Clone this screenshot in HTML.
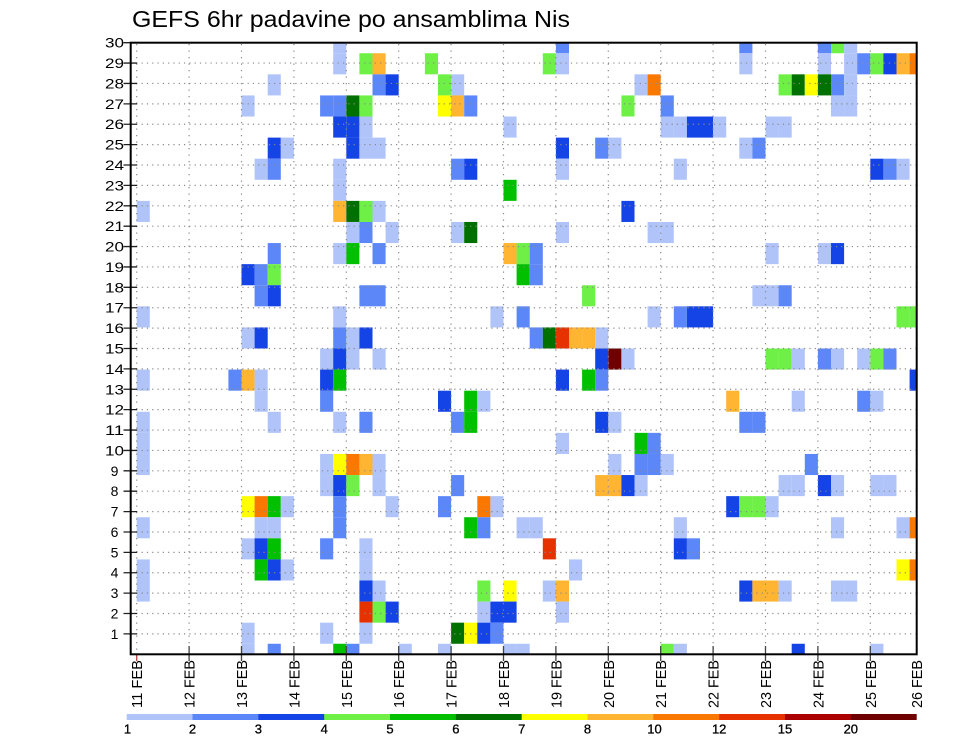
<!DOCTYPE html>
<html><head><meta charset="utf-8"><style>
html,body{margin:0;padding:0;background:#fff;}
svg{display:block;}
.a{fill:#b0c4fa}.b{fill:#5c87f8}.c{fill:#1443e6}.d{fill:#6ef046}.e{fill:#00c000}.f{fill:#007000}
.g{fill:#ffff00}.h{fill:#ffb432}.k{fill:#fa7800}.m{fill:#e63200}.n{fill:#aa0000}.p{fill:#6e0000}
text{font-family:"Liberation Sans",sans-serif;fill:#000;}
</style></head><body>
<svg width="960" height="742" viewBox="0 0 960 742" xmlns="http://www.w3.org/2000/svg">
<defs><clipPath id="cp"><rect x="130.7" y="42.7" width="786" height="611.6"/></clipPath></defs>
<rect width="960" height="742" fill="#fff"/>
<text x="132" y="27" font-size="23" textLength="438" lengthAdjust="spacingAndGlyphs">GEFS 6hr padavine po ansamblima Nis</text>
<g clip-path="url(#cp)"><g transform="translate(136.7 32.155) scale(13.1 21.09)">
<rect class="a" x="15" y="0" width="1" height="1"/><rect class="b" x="32" y="0" width="1" height="1"/><rect class="b" x="46" y="0" width="1" height="1"/><rect class="b" x="52" y="0" width="1" height="1"/><rect class="d" x="53" y="0" width="1" height="1"/><rect class="a" x="54" y="0" width="1" height="1"/>
<rect class="a" x="15" y="1" width="1" height="1"/><rect class="d" x="17" y="1" width="1" height="1"/><rect class="h" x="18" y="1" width="1" height="1"/><rect class="d" x="22" y="1" width="1" height="1"/><rect class="d" x="31" y="1" width="1" height="1"/><rect class="a" x="32" y="1" width="1" height="1"/><rect class="a" x="46" y="1" width="1" height="1"/><rect class="a" x="52" y="1" width="1" height="1"/><rect class="a" x="54" y="1" width="1" height="1"/><rect class="b" x="55" y="1" width="1" height="1"/><rect class="d" x="56" y="1" width="1" height="1"/><rect class="c" x="57" y="1" width="1" height="1"/><rect class="h" x="58" y="1" width="1" height="1"/><rect class="k" x="59" y="1" width="1" height="1"/>
<rect class="a" x="10" y="2" width="1" height="1"/><rect class="b" x="18" y="2" width="1" height="1"/><rect class="c" x="19" y="2" width="1" height="1"/><rect class="d" x="23" y="2" width="1" height="1"/><rect class="a" x="24" y="2" width="1" height="1"/><rect class="a" x="38" y="2" width="1" height="1"/><rect class="k" x="39" y="2" width="1" height="1"/><rect class="d" x="49" y="2" width="1" height="1"/><rect class="f" x="50" y="2" width="1" height="1"/><rect class="g" x="51" y="2" width="1" height="1"/><rect class="f" x="52" y="2" width="1" height="1"/><rect class="b" x="53" y="2" width="1" height="1"/><rect class="a" x="54" y="2" width="1" height="1"/>
<rect class="a" x="8" y="3" width="1" height="1"/><rect class="b" x="14" y="3" width="1" height="1"/><rect class="b" x="15" y="3" width="1" height="1"/><rect class="f" x="16" y="3" width="1" height="1"/><rect class="d" x="17" y="3" width="1" height="1"/><rect class="g" x="23" y="3" width="1" height="1"/><rect class="h" x="24" y="3" width="1" height="1"/><rect class="b" x="25" y="3" width="1" height="1"/><rect class="d" x="37" y="3" width="1" height="1"/><rect class="b" x="40" y="3" width="1" height="1"/><rect class="a" x="53" y="3" width="1" height="1"/><rect class="a" x="54" y="3" width="1" height="1"/>
<rect class="c" x="15" y="4" width="1" height="1"/><rect class="c" x="16" y="4" width="1" height="1"/><rect class="a" x="17" y="4" width="1" height="1"/><rect class="a" x="28" y="4" width="1" height="1"/><rect class="a" x="40" y="4" width="1" height="1"/><rect class="a" x="41" y="4" width="1" height="1"/><rect class="c" x="42" y="4" width="1" height="1"/><rect class="c" x="43" y="4" width="1" height="1"/><rect class="a" x="44" y="4" width="1" height="1"/><rect class="a" x="48" y="4" width="1" height="1"/><rect class="a" x="49" y="4" width="1" height="1"/>
<rect class="c" x="10" y="5" width="1" height="1"/><rect class="a" x="11" y="5" width="1" height="1"/><rect class="c" x="16" y="5" width="1" height="1"/><rect class="a" x="17" y="5" width="1" height="1"/><rect class="a" x="18" y="5" width="1" height="1"/><rect class="c" x="32" y="5" width="1" height="1"/><rect class="b" x="35" y="5" width="1" height="1"/><rect class="a" x="36" y="5" width="1" height="1"/><rect class="a" x="46" y="5" width="1" height="1"/><rect class="b" x="47" y="5" width="1" height="1"/>
<rect class="a" x="9" y="6" width="1" height="1"/><rect class="b" x="10" y="6" width="1" height="1"/><rect class="a" x="15" y="6" width="1" height="1"/><rect class="b" x="24" y="6" width="1" height="1"/><rect class="c" x="25" y="6" width="1" height="1"/><rect class="a" x="32" y="6" width="1" height="1"/><rect class="a" x="41" y="6" width="1" height="1"/><rect class="c" x="56" y="6" width="1" height="1"/><rect class="b" x="57" y="6" width="1" height="1"/><rect class="a" x="58" y="6" width="1" height="1"/>
<rect class="a" x="15" y="7" width="1" height="1"/><rect class="e" x="28" y="7" width="1" height="1"/>
<rect class="a" x="0" y="8" width="1" height="1"/><rect class="h" x="15" y="8" width="1" height="1"/><rect class="f" x="16" y="8" width="1" height="1"/><rect class="d" x="17" y="8" width="1" height="1"/><rect class="a" x="18" y="8" width="1" height="1"/><rect class="c" x="37" y="8" width="1" height="1"/>
<rect class="a" x="16" y="9" width="1" height="1"/><rect class="b" x="17" y="9" width="1" height="1"/><rect class="a" x="19" y="9" width="1" height="1"/><rect class="a" x="24" y="9" width="1" height="1"/><rect class="f" x="25" y="9" width="1" height="1"/><rect class="a" x="32" y="9" width="1" height="1"/><rect class="a" x="39" y="9" width="1" height="1"/><rect class="a" x="40" y="9" width="1" height="1"/>
<rect class="b" x="10" y="10" width="1" height="1"/><rect class="a" x="15" y="10" width="1" height="1"/><rect class="e" x="16" y="10" width="1" height="1"/><rect class="b" x="18" y="10" width="1" height="1"/><rect class="h" x="28" y="10" width="1" height="1"/><rect class="d" x="29" y="10" width="1" height="1"/><rect class="b" x="30" y="10" width="1" height="1"/><rect class="a" x="48" y="10" width="1" height="1"/><rect class="a" x="52" y="10" width="1" height="1"/><rect class="c" x="53" y="10" width="1" height="1"/>
<rect class="c" x="8" y="11" width="1" height="1"/><rect class="b" x="9" y="11" width="1" height="1"/><rect class="d" x="10" y="11" width="1" height="1"/><rect class="e" x="29" y="11" width="1" height="1"/><rect class="b" x="30" y="11" width="1" height="1"/>
<rect class="b" x="9" y="12" width="1" height="1"/><rect class="c" x="10" y="12" width="1" height="1"/><rect class="b" x="17" y="12" width="1" height="1"/><rect class="b" x="18" y="12" width="1" height="1"/><rect class="d" x="34" y="12" width="1" height="1"/><rect class="a" x="47" y="12" width="1" height="1"/><rect class="a" x="48" y="12" width="1" height="1"/><rect class="b" x="49" y="12" width="1" height="1"/>
<rect class="a" x="0" y="13" width="1" height="1"/><rect class="a" x="15" y="13" width="1" height="1"/><rect class="a" x="27" y="13" width="1" height="1"/><rect class="b" x="29" y="13" width="1" height="1"/><rect class="a" x="39" y="13" width="1" height="1"/><rect class="b" x="41" y="13" width="1" height="1"/><rect class="c" x="42" y="13" width="1" height="1"/><rect class="c" x="43" y="13" width="1" height="1"/><rect class="d" x="58" y="13" width="1" height="1"/><rect class="d" x="59" y="13" width="1" height="1"/>
<rect class="a" x="8" y="14" width="1" height="1"/><rect class="c" x="9" y="14" width="1" height="1"/><rect class="b" x="15" y="14" width="1" height="1"/><rect class="a" x="16" y="14" width="1" height="1"/><rect class="c" x="17" y="14" width="1" height="1"/><rect class="b" x="30" y="14" width="1" height="1"/><rect class="f" x="31" y="14" width="1" height="1"/><rect class="m" x="32" y="14" width="1" height="1"/><rect class="h" x="33" y="14" width="1" height="1"/><rect class="h" x="34" y="14" width="1" height="1"/><rect class="a" x="35" y="14" width="1" height="1"/>
<rect class="a" x="14" y="15" width="1" height="1"/><rect class="c" x="15" y="15" width="1" height="1"/><rect class="a" x="16" y="15" width="1" height="1"/><rect class="a" x="18" y="15" width="1" height="1"/><rect class="c" x="35" y="15" width="1" height="1"/><rect class="p" x="36" y="15" width="1" height="1"/><rect class="a" x="37" y="15" width="1" height="1"/><rect class="d" x="48" y="15" width="1" height="1"/><rect class="d" x="49" y="15" width="1" height="1"/><rect class="a" x="50" y="15" width="1" height="1"/><rect class="b" x="52" y="15" width="1" height="1"/><rect class="a" x="53" y="15" width="1" height="1"/><rect class="a" x="55" y="15" width="1" height="1"/><rect class="d" x="56" y="15" width="1" height="1"/><rect class="b" x="57" y="15" width="1" height="1"/>
<rect class="a" x="0" y="16" width="1" height="1"/><rect class="b" x="7" y="16" width="1" height="1"/><rect class="h" x="8" y="16" width="1" height="1"/><rect class="a" x="9" y="16" width="1" height="1"/><rect class="c" x="14" y="16" width="1" height="1"/><rect class="e" x="15" y="16" width="1" height="1"/><rect class="c" x="32" y="16" width="1" height="1"/><rect class="e" x="34" y="16" width="1" height="1"/><rect class="b" x="35" y="16" width="1" height="1"/><rect class="c" x="59" y="16" width="1" height="1"/>
<rect class="a" x="9" y="17" width="1" height="1"/><rect class="b" x="14" y="17" width="1" height="1"/><rect class="c" x="23" y="17" width="1" height="1"/><rect class="e" x="25" y="17" width="1" height="1"/><rect class="a" x="26" y="17" width="1" height="1"/><rect class="h" x="45" y="17" width="1" height="1"/><rect class="a" x="50" y="17" width="1" height="1"/><rect class="b" x="55" y="17" width="1" height="1"/><rect class="a" x="56" y="17" width="1" height="1"/>
<rect class="a" x="0" y="18" width="1" height="1"/><rect class="a" x="10" y="18" width="1" height="1"/><rect class="a" x="15" y="18" width="1" height="1"/><rect class="b" x="17" y="18" width="1" height="1"/><rect class="b" x="24" y="18" width="1" height="1"/><rect class="e" x="25" y="18" width="1" height="1"/><rect class="c" x="35" y="18" width="1" height="1"/><rect class="a" x="36" y="18" width="1" height="1"/><rect class="b" x="46" y="18" width="1" height="1"/><rect class="b" x="47" y="18" width="1" height="1"/>
<rect class="a" x="0" y="19" width="1" height="1"/><rect class="a" x="32" y="19" width="1" height="1"/><rect class="e" x="38" y="19" width="1" height="1"/><rect class="b" x="39" y="19" width="1" height="1"/>
<rect class="a" x="0" y="20" width="1" height="1"/><rect class="a" x="14" y="20" width="1" height="1"/><rect class="g" x="15" y="20" width="1" height="1"/><rect class="k" x="16" y="20" width="1" height="1"/><rect class="h" x="17" y="20" width="1" height="1"/><rect class="a" x="18" y="20" width="1" height="1"/><rect class="a" x="36" y="20" width="1" height="1"/><rect class="b" x="38" y="20" width="1" height="1"/><rect class="b" x="39" y="20" width="1" height="1"/><rect class="a" x="40" y="20" width="1" height="1"/><rect class="b" x="51" y="20" width="1" height="1"/>
<rect class="a" x="14" y="21" width="1" height="1"/><rect class="c" x="15" y="21" width="1" height="1"/><rect class="d" x="16" y="21" width="1" height="1"/><rect class="a" x="18" y="21" width="1" height="1"/><rect class="b" x="24" y="21" width="1" height="1"/><rect class="h" x="35" y="21" width="1" height="1"/><rect class="h" x="36" y="21" width="1" height="1"/><rect class="c" x="37" y="21" width="1" height="1"/><rect class="a" x="38" y="21" width="1" height="1"/><rect class="a" x="49" y="21" width="1" height="1"/><rect class="a" x="50" y="21" width="1" height="1"/><rect class="c" x="52" y="21" width="1" height="1"/><rect class="a" x="53" y="21" width="1" height="1"/><rect class="a" x="56" y="21" width="1" height="1"/><rect class="a" x="57" y="21" width="1" height="1"/>
<rect class="g" x="8" y="22" width="1" height="1"/><rect class="k" x="9" y="22" width="1" height="1"/><rect class="e" x="10" y="22" width="1" height="1"/><rect class="a" x="11" y="22" width="1" height="1"/><rect class="b" x="15" y="22" width="1" height="1"/><rect class="a" x="19" y="22" width="1" height="1"/><rect class="b" x="23" y="22" width="1" height="1"/><rect class="k" x="26" y="22" width="1" height="1"/><rect class="a" x="27" y="22" width="1" height="1"/><rect class="c" x="45" y="22" width="1" height="1"/><rect class="d" x="46" y="22" width="1" height="1"/><rect class="d" x="47" y="22" width="1" height="1"/><rect class="a" x="48" y="22" width="1" height="1"/>
<rect class="a" x="0" y="23" width="1" height="1"/><rect class="a" x="9" y="23" width="1" height="1"/><rect class="a" x="10" y="23" width="1" height="1"/><rect class="b" x="15" y="23" width="1" height="1"/><rect class="e" x="25" y="23" width="1" height="1"/><rect class="b" x="26" y="23" width="1" height="1"/><rect class="a" x="29" y="23" width="1" height="1"/><rect class="a" x="30" y="23" width="1" height="1"/><rect class="a" x="41" y="23" width="1" height="1"/><rect class="a" x="53" y="23" width="1" height="1"/><rect class="a" x="58" y="23" width="1" height="1"/><rect class="k" x="59" y="23" width="1" height="1"/>
<rect class="a" x="8" y="24" width="1" height="1"/><rect class="c" x="9" y="24" width="1" height="1"/><rect class="e" x="10" y="24" width="1" height="1"/><rect class="b" x="14" y="24" width="1" height="1"/><rect class="a" x="17" y="24" width="1" height="1"/><rect class="m" x="31" y="24" width="1" height="1"/><rect class="c" x="41" y="24" width="1" height="1"/><rect class="b" x="42" y="24" width="1" height="1"/>
<rect class="a" x="0" y="25" width="1" height="1"/><rect class="e" x="9" y="25" width="1" height="1"/><rect class="c" x="10" y="25" width="1" height="1"/><rect class="a" x="11" y="25" width="1" height="1"/><rect class="a" x="17" y="25" width="1" height="1"/><rect class="a" x="33" y="25" width="1" height="1"/><rect class="g" x="58" y="25" width="1" height="1"/><rect class="k" x="59" y="25" width="1" height="1"/>
<rect class="a" x="0" y="26" width="1" height="1"/><rect class="c" x="17" y="26" width="1" height="1"/><rect class="a" x="18" y="26" width="1" height="1"/><rect class="d" x="26" y="26" width="1" height="1"/><rect class="g" x="28" y="26" width="1" height="1"/><rect class="a" x="31" y="26" width="1" height="1"/><rect class="h" x="32" y="26" width="1" height="1"/><rect class="c" x="46" y="26" width="1" height="1"/><rect class="h" x="47" y="26" width="1" height="1"/><rect class="h" x="48" y="26" width="1" height="1"/><rect class="a" x="49" y="26" width="1" height="1"/><rect class="a" x="53" y="26" width="1" height="1"/><rect class="a" x="54" y="26" width="1" height="1"/>
<rect class="m" x="17" y="27" width="1" height="1"/><rect class="d" x="18" y="27" width="1" height="1"/><rect class="c" x="19" y="27" width="1" height="1"/><rect class="a" x="26" y="27" width="1" height="1"/><rect class="c" x="27" y="27" width="1" height="1"/><rect class="c" x="28" y="27" width="1" height="1"/><rect class="a" x="32" y="27" width="1" height="1"/>
<rect class="a" x="8" y="28" width="1" height="1"/><rect class="a" x="14" y="28" width="1" height="1"/><rect class="a" x="17" y="28" width="1" height="1"/><rect class="f" x="24" y="28" width="1" height="1"/><rect class="g" x="25" y="28" width="1" height="1"/><rect class="c" x="26" y="28" width="1" height="1"/><rect class="b" x="27" y="28" width="1" height="1"/>
<rect class="a" x="8" y="29" width="1" height="1"/><rect class="b" x="10" y="29" width="1" height="1"/><rect class="e" x="15" y="29" width="1" height="1"/><rect class="b" x="16" y="29" width="1" height="1"/><rect class="a" x="20" y="29" width="1" height="1"/><rect class="a" x="23" y="29" width="1" height="1"/><rect class="a" x="28" y="29" width="1" height="1"/><rect class="a" x="29" y="29" width="1" height="1"/><rect class="d" x="40" y="29" width="1" height="1"/><rect class="a" x="41" y="29" width="1" height="1"/><rect class="c" x="50" y="29" width="1" height="1"/><rect class="a" x="56" y="29" width="1" height="1"/>
</g></g>
<g stroke="#8a8a8a" stroke-width="1.2" fill="none">
<path stroke-dasharray="1.2 4.1" d="M131 633.91H916M131 613.53H916M131 593.14H916M131 572.75H916M131 552.37H916M131 531.98H916M131 511.59H916M131 491.2H916M131 470.82H916M131 450.43H916M131 430.04H916M131 409.66H916M131 389.27H916M131 368.88H916M131 348.5H916M131 328.11H916M131 307.72H916M131 287.33H916M131 266.95H916M131 246.56H916M131 226.17H916M131 205.79H916M131 185.4H916M131 165.01H916M131 144.62H916M131 124.24H916M131 103.85H916M131 83.46H916M131 63.08H916"/>
<path stroke-dasharray="1.2 5.3" d="M136.7 44V653M189.1 44V653M241.5 44V653M293.9 44V653M346.3 44V653M398.7 44V653M451.1 44V653M503.5 44V653M555.9 44V653M608.3 44V653M660.7 44V653M713.1 44V653M765.5 44V653M817.9 44V653M870.3 44V653"/>
</g>
<g stroke="#222" stroke-width="1.3">
<path d="M123.5 633.91H137M123.5 613.53H137M123.5 593.14H137M123.5 572.75H137M123.5 552.37H137M123.5 531.98H137M123.5 511.59H137M123.5 491.2H137M123.5 470.82H137M123.5 450.43H137M123.5 430.04H137M123.5 409.66H137M123.5 389.27H137M123.5 368.88H137M123.5 348.5H137M123.5 328.11H137M123.5 307.72H137M123.5 287.33H137M123.5 266.95H137M123.5 246.56H137M123.5 226.17H137M123.5 205.79H137M123.5 185.4H137M123.5 165.01H137M123.5 144.62H137M123.5 124.24H137M123.5 103.85H137M123.5 83.46H137M123.5 63.08H137M123.5 42.7H137"/>
<path stroke="#444" d="M189.1 646V661M241.5 646V661M293.9 646V661M346.3 646V661M398.7 646V661M451.1 646V661M503.5 646V661M555.9 646V661M608.3 646V661M660.7 646V661M713.1 646V661M765.5 646V661M817.9 646V661M870.3 646V661"/>
<path stroke="#c04040" d="M136.7 654V661"/>
</g>
<rect x="130.7" y="42.7" width="786" height="611.6" fill="none" stroke="#000" stroke-width="2"/>
<g font-size="14" text-anchor="middle">
<text x="114.5" y="638.9">1</text><text x="114.5" y="618.5">2</text><text x="114.5" y="598.1">3</text><text x="114.5" y="577.7">4</text><text x="114.5" y="557.4">5</text><text x="114.5" y="537">6</text><text x="114.5" y="516.6">7</text><text x="114.5" y="496.2">8</text><text x="114.5" y="475.8">9</text>
<text x="114.5" y="455.4" textLength="19" lengthAdjust="spacingAndGlyphs">10</text><text x="114.5" y="435" textLength="19" lengthAdjust="spacingAndGlyphs">11</text><text x="114.5" y="414.7" textLength="19" lengthAdjust="spacingAndGlyphs">12</text><text x="114.5" y="394.3" textLength="19" lengthAdjust="spacingAndGlyphs">13</text><text x="114.5" y="373.9" textLength="19" lengthAdjust="spacingAndGlyphs">14</text><text x="114.5" y="353.5" textLength="19" lengthAdjust="spacingAndGlyphs">15</text><text x="114.5" y="333.1" textLength="19" lengthAdjust="spacingAndGlyphs">16</text><text x="114.5" y="312.7" textLength="19" lengthAdjust="spacingAndGlyphs">17</text><text x="114.5" y="292.3" textLength="19" lengthAdjust="spacingAndGlyphs">18</text><text x="114.5" y="272" textLength="19" lengthAdjust="spacingAndGlyphs">19</text><text x="114.5" y="251.6" textLength="19" lengthAdjust="spacingAndGlyphs">20</text><text x="114.5" y="231.2" textLength="19" lengthAdjust="spacingAndGlyphs">21</text><text x="114.5" y="210.8" textLength="19" lengthAdjust="spacingAndGlyphs">22</text><text x="114.5" y="190.4" textLength="19" lengthAdjust="spacingAndGlyphs">23</text><text x="114.5" y="170" textLength="19" lengthAdjust="spacingAndGlyphs">24</text><text x="114.5" y="149.6" textLength="19" lengthAdjust="spacingAndGlyphs">25</text><text x="114.5" y="129.2" textLength="19" lengthAdjust="spacingAndGlyphs">26</text><text x="114.5" y="108.9" textLength="19" lengthAdjust="spacingAndGlyphs">27</text><text x="114.5" y="88.5" textLength="19" lengthAdjust="spacingAndGlyphs">28</text><text x="114.5" y="68.1" textLength="19" lengthAdjust="spacingAndGlyphs">29</text><text x="114.5" y="47.7" textLength="19" lengthAdjust="spacingAndGlyphs">30</text>
</g>
<g font-size="15" text-anchor="end">
<text transform="translate(142.2 660) rotate(-90)" textLength="48" lengthAdjust="spacingAndGlyphs">11 FEB</text>
<text transform="translate(194.6 660) rotate(-90)" textLength="48" lengthAdjust="spacingAndGlyphs">12 FEB</text>
<text transform="translate(247 660) rotate(-90)" textLength="48" lengthAdjust="spacingAndGlyphs">13 FEB</text>
<text transform="translate(299.4 660) rotate(-90)" textLength="48" lengthAdjust="spacingAndGlyphs">14 FEB</text>
<text transform="translate(351.8 660) rotate(-90)" textLength="48" lengthAdjust="spacingAndGlyphs">15 FEB</text>
<text transform="translate(404.2 660) rotate(-90)" textLength="48" lengthAdjust="spacingAndGlyphs">16 FEB</text>
<text transform="translate(456.6 660) rotate(-90)" textLength="48" lengthAdjust="spacingAndGlyphs">17 FEB</text>
<text transform="translate(509 660) rotate(-90)" textLength="48" lengthAdjust="spacingAndGlyphs">18 FEB</text>
<text transform="translate(561.4 660) rotate(-90)" textLength="48" lengthAdjust="spacingAndGlyphs">19 FEB</text>
<text transform="translate(613.8 660) rotate(-90)" textLength="48" lengthAdjust="spacingAndGlyphs">20 FEB</text>
<text transform="translate(666.2 660) rotate(-90)" textLength="48" lengthAdjust="spacingAndGlyphs">21 FEB</text>
<text transform="translate(718.6 660) rotate(-90)" textLength="48" lengthAdjust="spacingAndGlyphs">22 FEB</text>
<text transform="translate(771 660) rotate(-90)" textLength="48" lengthAdjust="spacingAndGlyphs">23 FEB</text>
<text transform="translate(823.4 660) rotate(-90)" textLength="48" lengthAdjust="spacingAndGlyphs">24 FEB</text>
<text transform="translate(875.8 660) rotate(-90)" textLength="48" lengthAdjust="spacingAndGlyphs">25 FEB</text>
<text transform="translate(922 660) rotate(-90)" textLength="48" lengthAdjust="spacingAndGlyphs">26 FEB</text>
</g>
<g>
<rect class="a" x="126.7" y="714" width="66.3" height="6"/>
<rect class="b" x="192.53" y="714" width="66.3" height="6"/>
<rect class="c" x="258.36" y="714" width="66.3" height="6"/>
<rect class="d" x="324.19" y="714" width="66.3" height="6"/>
<rect class="e" x="390.02" y="714" width="66.3" height="6"/>
<rect class="f" x="455.85" y="714" width="66.3" height="6"/>
<rect class="g" x="521.68" y="714" width="66.3" height="6"/>
<rect class="h" x="587.51" y="714" width="66.3" height="6"/>
<rect class="k" x="653.34" y="714" width="66.3" height="6"/>
<rect class="m" x="719.17" y="714" width="66.3" height="6"/>
<rect class="n" x="785" y="714" width="66.3" height="6"/>
<rect class="p" x="850.83" y="714" width="65.87" height="6"/>
</g>
<g font-size="13" text-anchor="middle" stroke="#000" stroke-width="0.3">
<text x="127.5" y="733.5">1</text><text x="192.5" y="733.5">2</text><text x="258.4" y="733.5">3</text><text x="324.2" y="733.5">4</text><text x="390" y="733.5">5</text><text x="455.9" y="733.5">6</text><text x="521.7" y="733.5">7</text><text x="587.5" y="733.5">8</text><text x="654.5" y="733.5">10</text><text x="719.2" y="733.5">12</text><text x="785" y="733.5">15</text><text x="850.8" y="733.5">20</text>
</g>
</svg>
</body></html>
